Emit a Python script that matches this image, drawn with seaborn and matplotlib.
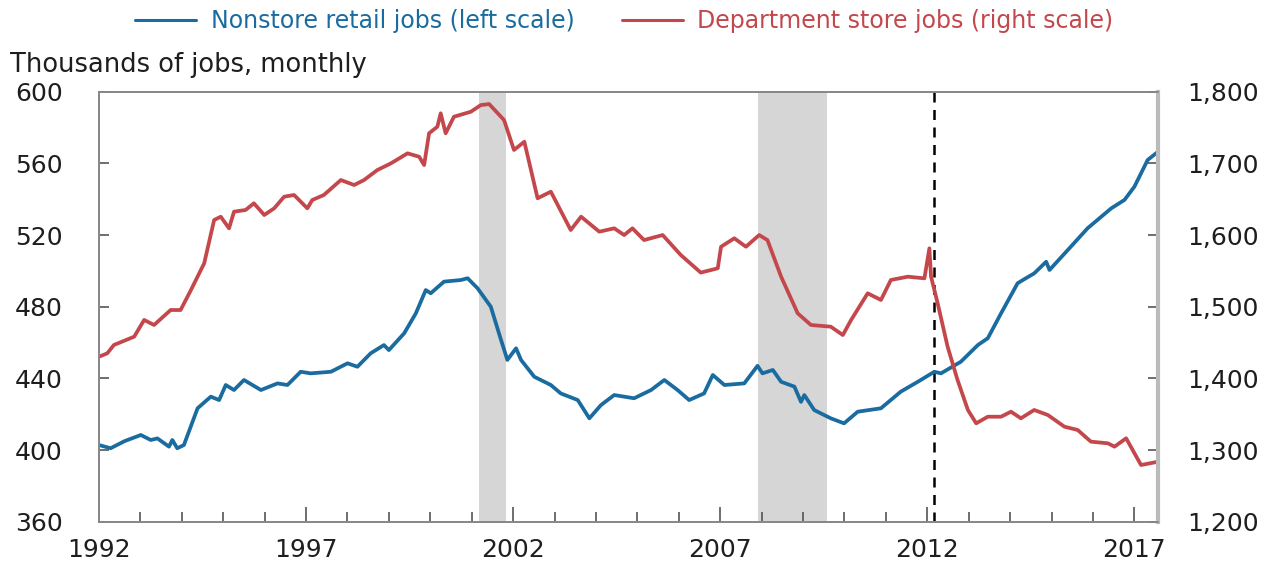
import matplotlib
matplotlib.use("Agg")
import matplotlib.pyplot as plt
from matplotlib.ticker import MultipleLocator, FuncFormatter
import seaborn as sns
import pandas as pd

# values (decimal years, thousands of jobs)
nonstore_dates = [1992.00, 1992.28, 1992.62, 1993.01, 1993.25, 1993.41, 1993.69, 1993.77, 1993.89,
                  1994.05, 1994.38, 1994.70, 1994.90, 1995.06, 1995.26, 1995.50, 1995.91, 1996.31,
                  1996.55, 1996.87, 1997.11, 1997.60, 1998.00, 1998.24, 1998.56, 1998.88, 1999.00,
                  1999.37, 1999.65, 1999.89, 2000.01, 2000.33, 2000.74, 2000.90, 2001.14, 2001.46,
                  2001.70, 2001.86, 2002.07, 2002.19, 2002.51, 2002.91, 2003.15, 2003.56, 2003.84,
                  2004.12, 2004.44, 2004.92, 2005.33, 2005.65, 2005.97, 2006.25, 2006.61, 2006.82,
                  2007.10, 2007.58, 2007.90, 2008.02, 2008.27, 2008.47, 2008.79, 2008.95, 2009.03,
                  2009.27, 2009.67, 2009.99, 2010.32, 2010.88, 2011.36, 2011.77, 2012.17, 2012.33,
                  2012.81, 2013.22, 2013.46, 2013.78, 2014.18, 2014.38, 2014.58, 2014.87, 2014.95,
                  2015.39, 2015.87, 2016.44, 2016.76, 2017.00, 2017.32, 2017.57]
nonstore_jobs = [402.8, 401.0, 405.0, 408.4, 405.6, 406.5, 401.9, 405.6, 401.0,
                 402.8, 423.3, 429.8, 427.9, 436.3, 433.5, 439.1, 433.5, 437.2,
                 436.3, 443.7, 442.8, 443.7, 448.4, 446.5, 454.0, 458.6, 455.8,
                 465.2, 476.3, 489.3, 487.5, 494.0, 494.9, 495.9, 490.3, 480.0,
                 462.0, 450.3, 456.8, 450.3, 440.9, 436.3, 431.6, 427.9, 417.7,
                 425.1, 430.7, 428.9, 433.5, 439.1, 433.5, 427.9, 431.6, 441.9,
                 436.3, 437.2, 447.0, 442.8, 444.7, 438.1, 435.4, 426.9, 430.7,
                 422.3, 417.7, 414.9, 421.4, 423.3, 432.6, 438.1, 443.7, 442.8,
                 449.3, 458.6, 462.4, 476.3, 493.1, 495.9, 498.6, 505.1, 500.5,
                 511.6, 523.8, 534.9, 539.6, 547.0, 561.9, 566.5]

dept_dates = [1992.00, 1992.20, 1992.36, 1992.85, 1993.09, 1993.33, 1993.73, 1993.97, 1994.22,
              1994.54, 1994.78, 1994.94, 1995.14, 1995.26, 1995.54, 1995.74, 1995.99, 1996.23,
              1996.47, 1996.71, 1997.03, 1997.15, 1997.43, 1997.84, 1998.16, 1998.40, 1998.72,
              1999.05, 1999.45, 1999.73, 1999.85, 1999.97, 2000.17, 2000.25, 2000.37, 2000.57,
              2000.98, 2001.22, 2001.42, 2001.78, 2002.02, 2002.27, 2002.59, 2002.91, 2003.39,
              2003.64, 2004.08, 2004.44, 2004.68, 2004.88, 2005.16, 2005.61, 2006.05, 2006.53,
              2006.94, 2007.02, 2007.34, 2007.62, 2007.94, 2008.14, 2008.47, 2008.87, 2009.19,
              2009.67, 2009.96, 2010.16, 2010.56, 2010.88, 2011.12, 2011.53, 2011.93, 2012.05,
              2012.09, 2012.25, 2012.49, 2012.73, 2012.98, 2013.18, 2013.46, 2013.78, 2014.02,
              2014.26, 2014.58, 2014.91, 2015.31, 2015.63, 2015.95, 2016.36, 2016.52, 2016.80,
              2017.16, 2017.57]
dept_jobs = [1430.2, 1435.0, 1446.6, 1458.2, 1481.5, 1474.5, 1495.4, 1495.4, 1523.3,
             1560.6, 1621.0, 1625.6, 1609.4, 1632.6, 1635.0, 1644.3, 1628.0, 1637.3,
             1653.5, 1655.9, 1637.3, 1648.9, 1655.9, 1676.8, 1669.8, 1676.8, 1690.7,
             1700.1, 1714.0, 1709.3, 1697.7, 1742.0, 1751.2, 1769.9, 1742.0, 1765.1,
             1772.1, 1781.4, 1782.8, 1760.5, 1718.7, 1730.2, 1651.3, 1660.5, 1607.0,
             1625.6, 1604.7, 1609.4, 1600.0, 1609.4, 1593.0, 1600.0, 1572.0, 1547.6,
             1553.6, 1583.7, 1595.5, 1583.7, 1600.0, 1593.0, 1541.9, 1490.8, 1474.5,
             1472.1, 1460.5, 1481.5, 1518.7, 1509.4, 1537.3, 1541.9, 1539.6, 1581.5,
             1541.9, 1504.7, 1444.2, 1397.7, 1355.9, 1337.3, 1346.5, 1346.5, 1353.5,
             1344.3, 1355.9, 1348.9, 1332.6, 1328.0, 1311.7, 1309.4, 1304.7, 1316.4,
             1279.1, 1283.7]

year_ticks = [1992, 1997, 2002, 2007, 2012, 2017]
left_ticks = [360, 400, 440, 480, 520, 560, 600]
right_ticks = [1200, 1300, 1400, 1500, 1600, 1700, 1800]

recessions = [(2001.17, 2001.83), (2007.92, 2009.58)]
marker_year = 2012.15

blue = "#1a6ca0"
red = "#c4474c"
ink = "#1e1e1e"

sns.set_style("white")
plt.rcParams["font.family"] = ["DejaVu Sans"]
plt.rcParams["text.color"] = ink
plt.rcParams["xtick.labelcolor"] = ink
plt.rcParams["ytick.labelcolor"] = ink

nonstore = pd.DataFrame({"date": nonstore_dates, "jobs": nonstore_jobs})
dept = pd.DataFrame({"date": dept_dates, "jobs": dept_jobs})

fig = plt.figure(figsize=(12.79, 5.62), dpi=100)
ax = fig.add_axes([0.0774, 0.0717, 0.8280, 0.7651])
ax2 = ax.twinx()

for a, b in recessions:
    ax.axvspan(a, b, color="#d6d6d6", lw=0, zorder=0)
ax.axvline(marker_year, color="black", lw=1.8, ls=(0, (4, 3)), zorder=1)

sns.lineplot(data=nonstore, x="date", y="jobs", ax=ax, color=blue, lw=2.7,
             label="Nonstore retail jobs (left scale)", legend=False)
sns.lineplot(data=dept, x="date", y="jobs", ax=ax2, color=red, lw=2.7,
             label="Department store jobs (right scale)", legend=False)

ax.set_xlim(1992, 2017.57)
ax.set_ylim(left_ticks[0], left_ticks[-1])
ax2.set_ylim(right_ticks[0], right_ticks[-1])
ax.set_xlabel("")
ax.set_ylabel("")
ax2.set_ylabel("")

ax.set_xticks(year_ticks)
ax.set_xticklabels([str(y) for y in year_ticks])
ax.xaxis.set_minor_locator(MultipleLocator(1))
ax.set_yticks(left_ticks)
ax2.set_yticks(right_ticks)
ax2.yaxis.set_major_formatter(FuncFormatter(lambda v, p: f"{int(v):,}"))

ax.tick_params(axis="x", which="major", direction="in", length=11, width=1.2,
               color="#555555", labelsize=18, pad=12, bottom=True)
ax.tick_params(axis="x", which="minor", direction="in", length=7, width=1.2,
               color="#555555", bottom=True)
ax.tick_params(axis="y", direction="in", length=7, width=1.2, color="#555555",
               labelsize=18, pad=26, left=True)
ax2.tick_params(axis="y", direction="in", length=7, width=1.2, color="#555555",
                labelsize=18, pad=21, right=True)

for a in (ax, ax2):
    for s in a.spines.values():
        s.set_color("#888888")
        s.set_linewidth(1.3)
ax2.spines["right"].set_color("#bbbbbb")
ax2.spines["right"].set_linewidth(3)

fig.text(0.008, 0.862, "Thousands of jobs, monthly", fontsize=18.5, ha="left", va="bottom")

handles = ax.get_lines()[-1:] + ax2.get_lines()[-1:]
leg = fig.legend(handles=handles, labels=[h.get_label() for h in handles],
                 loc="upper center", bbox_to_anchor=(0.488, 1.022), ncol=2, frameon=False,
                 fontsize=17, handlelength=2.6, handletextpad=0.6, columnspacing=2.0,
                 labelcolor="linecolor")
for h in leg.legend_handles:
    h.set_linewidth(2.2)

fig.savefig("out.png", dpi=100)
